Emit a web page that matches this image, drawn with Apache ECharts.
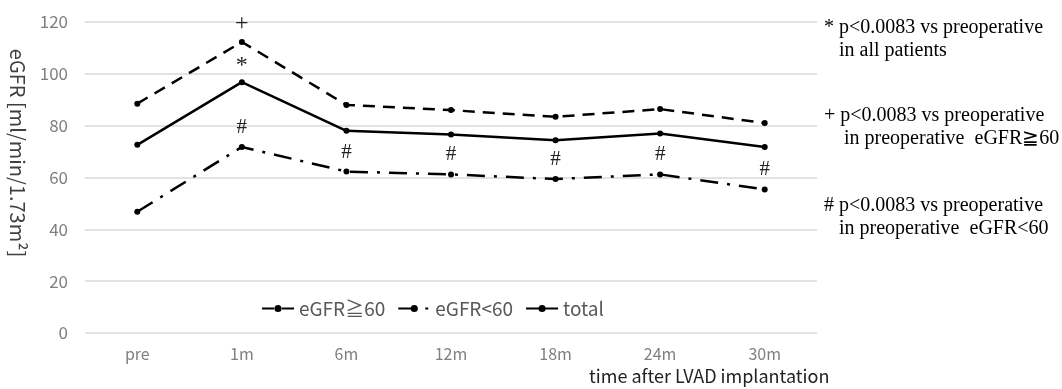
<!DOCTYPE html>
<html><head><meta charset="utf-8">
<script src="https://cdn.jsdelivr.net/npm/echarts@6/dist/echarts.min.js"></script>
<style>html,body{margin:0;padding:0;background:#fff}#c{width:1062px;height:389px}</style>
</head><body><div id="c"></div>
<script>
const categories = ['pre','1m','6m','12m','18m','24m','30m'];
const seriesNames = ['eGFR\u226760','eGFR<60','total'];
const egfrHigh = [88.5, 112.3, 88, 86, 83.4, 86.4, 81];
const egfrLow = [46.8, 71.8, 62.3, 61.2, 59.4, 61.2, 55.4];
const total = [72.6, 96.8, 78, 76.6, 74.4, 77, 71.8];
const annHigh = ['', '+', '', '', '', '', ''];
const annLow = ['', '#', '#', '#', '#', '#', '#'];
const annTotal = ['', '*', '', '', '', '', ''];
const yTicks = [0, 20, 40, 60, 80, 100, 120];
const notes = [
  ['* p<0.0083 vs preoperative', '   in all patients'],
  ['+ p<0.0083 vs preoperative', '    in preoperative  eGFR\u226760'],
  ['# p<0.0083 vs preoperative', '   in preoperative  eGFR<60']
];

function withAnn(vals, ann, dist, size) {
  return vals.map((v, i) => ann[i] ? {
    value: v,
    label: { show: true, formatter: ann[i], position: 'top', distance: dist,
      fontFamily: 'Liberation Serif', fontSize: size, color: '#222' }
  } : v);
}

const chart = echarts.init(document.getElementById('c'), null, {renderer: 'canvas'});
const lineBase = (name, data, type) => ({
  name, type: 'line', data, symbol: 'circle', symbolSize: 6,
  itemStyle: { color: '#000' },
  lineStyle: { color: '#000', width: 2.5, type },
  animation: false
});
const textEls = [];
notes.forEach((n, i) => {
  const y0 = [18, 106, 196][i];
  textEls.push({ type: 'text', left: 824, top: y0,
    style: { text: n[0], font: '20px "Liberation Serif"', fill: '#000' } });
  textEls.push({ type: 'text', left: 824, top: y0 + 23,
    style: { text: n[1], font: '20px "Liberation Serif"', fill: '#000' } });
});
textEls.push({ type: 'text', left: 589, top: 367,
  style: { text: 'time after LVAD implantation', font: '18px "Noto Sans CJK JP"', fill: '#222' } });
textEls.push({ type: 'text', x: 18, y: 153, rotation: -Math.PI / 2,
  style: { text: 'eGFR [ml/min/1.73m\u00b2]', font: '20px "Noto Sans CJK JP"', fill: '#404040',
    align: 'center', verticalAlign: 'middle' } });

chart.setOption({
  backgroundColor: '#fff',
  grid: { left: 85, right: 245, top: 22, bottom: 56, containLabel: false },
  legend: {
    data: seriesNames, left: 256, top: 294, itemWidth: 32, itemHeight: 9, itemGap: 12,
    textStyle: { color: '#595959', fontSize: 19, fontFamily: 'Noto Sans CJK JP' }
  },
  xAxis: {
    type: 'category', data: categories, boundaryGap: true,
    axisLine: { show: false }, axisTick: { show: false },
    axisLabel: { color: '#7f7f7f', fontSize: 16, margin: 13, fontFamily: 'Noto Sans CJK JP' }
  },
  yAxis: {
    type: 'value', min: 0, max: 120, interval: 20,
    axisLine: { show: false }, axisTick: { show: false },
    axisLabel: { color: '#7f7f7f', fontSize: 17, margin: 17, fontFamily: 'Noto Sans CJK JP',
      formatter: v => yTicks.includes(v) ? String(v) : '' },
    splitLine: { lineStyle: { color: '#d9d9d9', width: 1.5 } }
  },
  series: [
    lineBase(seriesNames[0], withAnn(egfrHigh, annHigh, 3, 24), [12, 8]),
    lineBase(seriesNames[1], withAnn(egfrLow, annLow, 6, 21), [18, 9, 3, 9]),
    lineBase(seriesNames[2], withAnn(total, annTotal, 1, 24), 'solid')
  ],
  graphic: textEls
});
</script></body></html>
